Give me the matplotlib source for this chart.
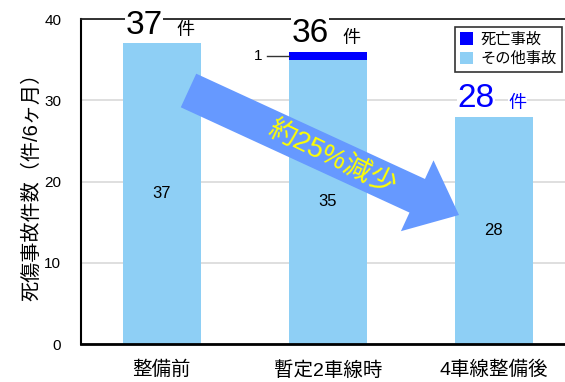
import matplotlib
matplotlib.use("Agg")
import matplotlib.pyplot as plt
from matplotlib.patches import FancyArrow, Patch
from matplotlib.transforms import IdentityTransform

plt.rcParams['font.family'] = ['Liberation Sans', 'Noto Sans CJK JP', 'DejaVu Sans']

categories = ['整備前', '暫定2車線時', '4車線整備後']
fatal = [0, 1, 0]
other = [37, 35, 28]
totals = [f + o for f, o in zip(fatal, other)]
total_colors = ['black', 'black', '#0000FF']
yticks = [0, 10, 20, 30, 40]

c_other = '#8ECFF5'
c_fatal = '#0000FF'

fig = plt.figure(figsize=(5.65, 3.82), dpi=100)
ax = fig.add_axes([0.143, 0.099, 0.857, 0.851])

x = list(range(len(categories)))
w = 0.47
ax.bar(x, other, width=w, color=c_other, zorder=2)
ax.bar(x, fatal, width=w, bottom=other, color=c_fatal, zorder=2)

ax.set_xlim(-0.488, 2.428)
ax.set_ylim(0, 40)
ax.set_yticks(yticks)
ax.set_xticks(x)
ax.set_xticklabels(categories, fontsize=14)
ax.tick_params(axis='x', length=0, pad=12)
ax.tick_params(axis='y', length=0, labelsize=11, pad=14)
ax.grid(axis='y', color='#d9d9d9', linewidth=1.2, zorder=0)
ax.spines['right'].set_visible(False)
ax.spines['top'].set_color('#222222')
ax.spines['top'].set_linewidth(1.3)
ax.spines['left'].set_linewidth(1.5)
ax.spines['bottom'].set_linewidth(2.0)
ax.set_ylabel('死傷事故件数（件/6ヶ月）', fontsize=14.5, labelpad=2)

# values inside the bars
for xi, v in zip(x, other):
    ax.text(xi, v / 2, str(v), ha='center', va='center', fontsize=12, zorder=4)

# totals above the bars
for xi, t, col in zip(x, totals, total_colors):
    ax.annotate(f'{t}', (xi, t), xytext=(-13, 7), textcoords='offset points',
                ha='center', va='baseline', fontsize=24, color=col, zorder=5,
                annotation_clip=False,
                bbox=dict(facecolor='white', edgecolor='none', pad=0.5))
    ax.annotate('件', (xi, t), xytext=(17, 6), textcoords='offset points',
                ha='center', va='baseline', fontsize=13, color=col, zorder=5,
                annotation_clip=False,
                bbox=dict(facecolor='white', edgecolor='none', pad=0.5))

# fatal-accident count next to the middle bar
left2 = x[1] - w / 2
yf = other[1] + fatal[1] / 2
ax.plot([left2 - 0.13, left2], [yf, yf], color='#333333', linewidth=1, zorder=3)
ax.text(left2 - 0.16, yf, str(fatal[1]), ha='right', va='center', fontsize=11)

# legend
handles = [Patch(facecolor=c_fatal, edgecolor='none', label='死亡事故'),
           Patch(facecolor=c_other, edgecolor='none', label='その他事故')]
leg = ax.legend(handles=handles, loc='upper right', bbox_to_anchor=(1.0, 0.985),
                fontsize=11, frameon=True, fancybox=False, handlelength=0.8,
                handleheight=0.9, handletextpad=0.5, borderpad=0.35,
                labelspacing=0.3, borderaxespad=0.2)
leg.get_frame().set_edgecolor('black')
leg.get_frame().set_linewidth(1.2)
leg.set_zorder(6)

# reduction arrow (figure pixel coordinates)
H = 382
tail = (188.5, H - 90.5)
tip = (459.0, H - 215.0)
arrow = FancyArrow(tail[0], tail[1], tip[0] - tail[0], tip[1] - tail[1],
                   width=37, head_width=78, head_length=46,
                   length_includes_head=True, color='#6699FF', ec='none',
                   transform=IdentityTransform(), zorder=7)
fig.patches.append(arrow)
fig.text(332 / 565, 1 - 158 / H, '約25%減少', rotation=-26, ha='center',
         va='center', fontsize=20, color='#FFFF00', rotation_mode='anchor',
         zorder=8)

fig.savefig('out.png', dpi=100)
